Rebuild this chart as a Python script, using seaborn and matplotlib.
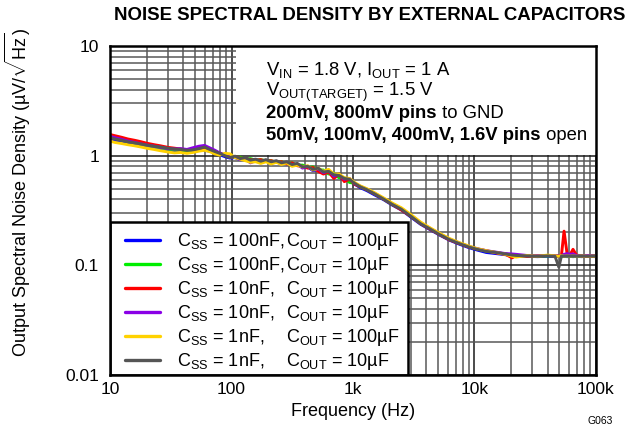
import numpy as np
import pandas as pd
import seaborn as sns
import matplotlib
matplotlib.use('Agg')
import matplotlib.pyplot as plt
from matplotlib.patches import Rectangle
from matplotlib.lines import Line2D
from matplotlib.ticker import FixedLocator, FixedFormatter, LogLocator, NullFormatter

# frequency points (Hz)
freq = [10, 11, 12.5, 14, 16, 18, 20, 23, 26, 30,
        34, 38, 43, 48, 54, 60, 66, 73, 80, 88,
        97, 107, 118, 130, 143, 158, 174, 192, 212, 234,
        258, 285, 315, 348, 384, 424, 468, 517, 571, 630,
        696, 768, 848, 936, 1030, 1150, 1300, 1500, 1800, 2100,
        2500, 3000, 3600, 4300, 5200, 6200, 7500, 9000, 10500, 12500,
        15000, 18000, 20400, 22000, 27000, 33000, 40000, 46000, 49500, 52000,
        54600, 58000, 61000, 64700, 69000, 76000, 85000, 100000]

# noise density (uV/rtHz) per capacitor combination
css100n_cout100u = [1.42, 1.38, 1.33, 1.29, 1.25, 1.22, 1.19, 1.16, 1.13, 1.11,
                    1.10, 1.11, 1.08, 1.10, 1.13, 1.12, 1.10, 1.06, 1.02, 0.98,
                    0.95, 0.96, 0.92, 0.94, 0.90, 0.92, 0.88, 0.90, 0.86, 0.88,
                    0.84, 0.86, 0.81, 0.83, 0.78, 0.79, 0.73, 0.75, 0.70, 0.70,
                    0.65, 0.64, 0.60, 0.59, 0.55, 0.51, 0.48, 0.44, 0.395, 0.355,
                    0.32, 0.275, 0.237, 0.212, 0.188, 0.17, 0.156, 0.145, 0.138, 0.131,
                    0.128, 0.125, 0.122, 0.122, 0.121, 0.120, 0.121, 0.120, 0.121, 0.120,
                    0.121, 0.120, 0.121, 0.120, 0.121, 0.120, 0.121, 0.120]
css100n_cout10u = [1.48, 1.44, 1.39, 1.35, 1.31, 1.27, 1.24, 1.21, 1.18, 1.15,
                   1.13, 1.13, 1.10, 1.13, 1.16, 1.17, 1.15, 1.10, 1.05, 1.01,
                   0.98, 0.96, 0.97, 0.93, 0.94, 0.91, 0.92, 0.90, 0.90, 0.87,
                   0.88, 0.85, 0.86, 0.82, 0.82, 0.78, 0.79, 0.74, 0.74, 0.68,
                   0.69, 0.63, 0.63, 0.57, 0.56, 0.52, 0.49, 0.45, 0.40, 0.36,
                   0.325, 0.28, 0.241, 0.216, 0.191, 0.173, 0.159, 0.148, 0.141, 0.135,
                   0.131, 0.127, 0.124, 0.122, 0.122, 0.121, 0.122, 0.122, 0.122, 0.121,
                   0.122, 0.122, 0.121, 0.122, 0.122, 0.121, 0.122, 0.121]
css10n_cout100u = [1.56, 1.52, 1.47, 1.42, 1.38, 1.34, 1.30, 1.26, 1.23, 1.19,
                   1.17, 1.15, 1.13, 1.14, 1.15, 1.14, 1.12, 1.08, 1.05, 1.01,
                   0.97, 0.98, 0.95, 0.94, 0.92, 0.91, 0.92, 0.89, 0.90, 0.87,
                   0.88, 0.84, 0.86, 0.81, 0.80, 0.77, 0.78, 0.72, 0.68, 0.71,
                   0.62, 0.68, 0.58, 0.61, 0.55, 0.52, 0.49, 0.45, 0.40, 0.36,
                   0.32, 0.28, 0.24, 0.214, 0.19, 0.171, 0.158, 0.147, 0.141, 0.136,
                   0.13, 0.126, 0.117, 0.123, 0.121, 0.122, 0.123, 0.122, 0.122, 0.124,
                   0.205, 0.125, 0.124, 0.14, 0.124, 0.122, 0.121, 0.122]
css10n_cout10u = [1.50, 1.46, 1.41, 1.36, 1.32, 1.28, 1.25, 1.22, 1.19, 1.16,
                  1.15, 1.16, 1.14, 1.18, 1.22, 1.24, 1.18, 1.12, 1.06, 1.02,
                  0.98, 0.97, 0.92, 0.94, 0.86, 0.90, 0.87, 0.91, 0.85, 0.89,
                  0.84, 0.87, 0.82, 0.84, 0.77, 0.80, 0.74, 0.76, 0.70, 0.73,
                  0.65, 0.67, 0.61, 0.62, 0.56, 0.525, 0.495, 0.455, 0.405, 0.365,
                  0.33, 0.285, 0.245, 0.218, 0.193, 0.174, 0.16, 0.149, 0.142, 0.136,
                  0.132, 0.128, 0.127, 0.126, 0.123, 0.122, 0.123, 0.122, 0.122, 0.123,
                  0.126, 0.128, 0.126, 0.127, 0.123, 0.122, 0.123, 0.123]
css1n_cout100u = [1.36, 1.32, 1.29, 1.26, 1.23, 1.20, 1.17, 1.14, 1.11, 1.08,
                  1.06, 1.07, 1.05, 1.07, 1.10, 1.12, 1.09, 1.04, 1.01, 1.05,
                  1.04, 0.96, 0.93, 0.90, 0.87, 0.88, 0.85, 0.88, 0.84, 0.87,
                  0.83, 0.86, 0.80, 0.82, 0.79, 0.81, 0.74, 0.77, 0.72, 0.75,
                  0.68, 0.68, 0.63, 0.62, 0.57, 0.53, 0.50, 0.46, 0.41, 0.37,
                  0.335, 0.29, 0.248, 0.22, 0.195, 0.176, 0.161, 0.15, 0.142, 0.136,
                  0.131, 0.126, 0.121, 0.119, 0.123, 0.121, 0.124, 0.122, 0.121, 0.123,
                  0.121, 0.122, 0.121, 0.122, 0.121, 0.122, 0.121, 0.122]
css1n_cout10u = [1.46, 1.42, 1.38, 1.34, 1.31, 1.28, 1.25, 1.22, 1.20, 1.17,
                 1.15, 1.14, 1.12, 1.13, 1.16, 1.20, 1.14, 1.09, 1.05, 1.00,
                 0.96, 0.99, 0.94, 0.96, 0.91, 0.93, 0.89, 0.92, 0.88, 0.90,
                 0.86, 0.88, 0.83, 0.85, 0.79, 0.80, 0.75, 0.77, 0.71, 0.72,
                 0.67, 0.66, 0.62, 0.61, 0.56, 0.52, 0.49, 0.45, 0.40, 0.36,
                 0.325, 0.28, 0.24, 0.215, 0.19, 0.172, 0.158, 0.147, 0.14, 0.134,
                 0.131, 0.127, 0.124, 0.123, 0.122, 0.121, 0.122, 0.121, 0.096, 0.122,
                 0.121, 0.122, 0.121, 0.122, 0.121, 0.122, 0.121, 0.122]

series_names = ['100n/100u', '100n/10u', '10n/100u', '10n/10u', '1n/100u', '1n/10u']
series_vals = [css100n_cout100u, css100n_cout10u, css10n_cout100u,
               css10n_cout10u, css1n_cout100u, css1n_cout10u]
series_colors = ['#0000ff', '#00ee00', '#ff0000', '#8a00e6', '#ffd200', '#555555']
legend_css = ['100nF,', '100nF,', '10nF,', '10nF,', '1nF,', '1nF,']
legend_cout = ['100µF', '10µF', '100µF', '10µF', '100µF', '10µF']

x_ticks = [10, 100, 1000, 10000, 100000]
x_ticklabels = ['10', '100', '1k', '10k', '100k']
y_ticks = [0.01, 0.1, 1, 10]
y_ticklabels = ['0.01', '0.1', '1', '10']

df = pd.concat([pd.DataFrame({'freq': freq, 'noise': v, 'series': n})
                for n, v in zip(series_names, series_vals)], ignore_index=True)

sns.set_style('ticks')
plt.rcParams['font.family'] = ['Liberation Sans', 'DejaVu Sans']
plt.rcParams['mathtext.fontset'] = 'custom'
plt.rcParams['mathtext.rm'] = 'Liberation Sans'
plt.rcParams['mathtext.it'] = 'Liberation Sans:italic'
plt.rcParams['mathtext.bf'] = 'Liberation Sans:bold'
for k in ['text.color', 'axes.labelcolor', 'xtick.color', 'ytick.color']:
    plt.rcParams[k] = 'black'

fig = plt.figure(figsize=(6.37, 4.30), dpi=100)
ax = fig.add_axes([0.1727, 0.1279, 0.7629, 0.7651])

sns.lineplot(data=df, x='freq', y='noise', hue='series', hue_order=series_names,
             palette=dict(zip(series_names, series_colors)), estimator=None,
             sort=False, linewidth=2.1, legend=False, ax=ax)

ax.set_xscale('log')
ax.set_yscale('log')
ax.set_xlim(10, 100000)
ax.set_ylim(0.01, 10)
ax.xaxis.set_major_locator(FixedLocator(x_ticks))
ax.xaxis.set_major_formatter(FixedFormatter(x_ticklabels))
ax.yaxis.set_major_locator(FixedLocator(y_ticks))
ax.yaxis.set_major_formatter(FixedFormatter(y_ticklabels))
for a in (ax.xaxis, ax.yaxis):
    a.set_minor_locator(LogLocator(base=10, subs=np.arange(2, 10)))
    a.set_minor_formatter(NullFormatter())
ax.tick_params(which='both', length=0, labelsize=12.5, labelcolor='black')
ax.tick_params(axis='x', pad=5)
ax.tick_params(axis='y', pad=8)

ax.set_axisbelow(True)
ax.grid(which='major', color='#1a1a1a', lw=1.1)
ax.grid(which='minor', color='#585858', lw=1.1)
for s in ax.spines.values():
    s.set_linewidth(1.8)
    s.set_color('black')

ax.set_xlabel('Frequency (Hz)', fontsize=13, labelpad=4, color='black')
ax.set_ylabel('')
fig.text(0.028, 0.553, r'Output Spectral Noise Density (µV/$\sqrt{\mathregular{Hz}}$)',
         rotation=90, ha='center', va='center', fontsize=13)
fig.text(0.581, 0.965, 'NOISE SPECTRAL DENSITY BY EXTERNAL CAPACITORS',
         ha='center', va='center', fontsize=13.4, fontweight='bold')
fig.text(0.942, 0.021, 'G063', ha='center', va='center', fontsize=7.5)

# white box behind the conditions text
ax.add_patch(Rectangle((0.259, 0.669), 0.741, 0.331, transform=ax.transAxes,
                       facecolor='white', edgecolor='none', zorder=1))
# legend box
ax.add_patch(Rectangle((0, 0), 0.613, 0.465, transform=ax.transAxes,
                       facecolor='white', edgecolor='black', lw=1.8, zorder=1.5))

tx = 0.321
fs = 13.3
ax.text(tx, 0.912, r'V$_\mathregular{IN}$ = 1.8 V, I$_\mathregular{OUT}$ = 1 A',
        transform=ax.transAxes, fontsize=fs, va='baseline')
ax.text(tx, 0.847, r'V$_\mathregular{OUT(TARGET)}$ = 1.5 V',
        transform=ax.transAxes, fontsize=fs, va='baseline')
b1 = ax.text(tx, 0.781, '200mV, 800mV pins', transform=ax.transAxes,
             fontsize=fs, fontweight='bold', va='baseline')
ax.annotate(' to GND', xy=(1, 0), xycoords=b1, fontsize=fs, va='bottom')
b2 = ax.text(tx, 0.714, '50mV, 100mV, 400mV, 1.6V pins', transform=ax.transAxes,
             fontsize=fs, fontweight='bold', va='baseline')
ax.annotate(' open', xy=(1, 0), xycoords=b2, fontsize=fs, va='bottom')

labels1 = [r'C$_\mathregular{SS}$ = ' + c for c in legend_css]
labels2 = [r'C$_\mathregular{OUT}$ = ' + c for c in legend_cout]
leg_handles = [Line2D([], [], color=c, lw=2.4) for c in series_colors]
leg = ax.legend(leg_handles, labels1, loc='upper left', bbox_to_anchor=(0.031, 0.437),
                frameon=False, fontsize=13, handlelength=1.95, handletextpad=0.9,
                labelspacing=0.22, borderpad=0, borderaxespad=0)
for t in leg.get_texts():
    t.set_color('black')
# second legend column, tied to the rows of the first
for t, lab in zip(leg.get_texts(), labels2):
    ax.annotate(lab, xy=(0.362, 0.5), xycoords=(ax.transAxes, t), fontsize=13,
                va='center', ha='left', zorder=6)

fig.canvas.draw()
fig.savefig('out.png', dpi=100)
